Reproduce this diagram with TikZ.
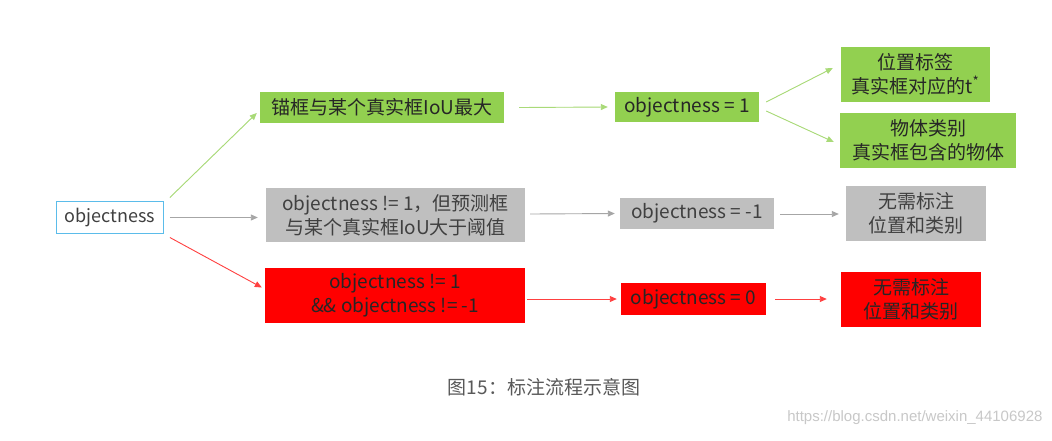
\documentclass[tikz,border=0pt]{standalone}
\usepackage{fontspec}
\setmainfont{Noto Sans CJK SC}
\newfontfamily\wmfont{Liberation Sans}
\usetikzlibrary{arrows.meta}
\definecolor{gbox}{HTML}{92D050}
\definecolor{gline}{HTML}{A9DA78}
\definecolor{graybox}{HTML}{BFBFBF}
\definecolor{grayline}{HTML}{A6A6A6}
\definecolor{rbox}{HTML}{FF0000}
\definecolor{rline}{HTML}{FF4040}
\definecolor{bluebd}{HTML}{5BBCEA}
\definecolor{captc}{HTML}{595959}
\definecolor{wmc}{HTML}{C8C8C8}
\tikzset{
  box/.style={inner sep=0pt, align=center, font=\fontsize{19}{24}\selectfont},
  greenbox/.style={box, fill=gbox, text=black!85},
  graybx/.style={box, fill=graybox, text=black!75},
  redbx/.style={box, fill=rbox, text=black!85},
  conn/.style={line width=0.9pt, -{Triangle[length=7pt,width=6pt]}},
  gconn/.style={conn, draw=gline, fill=gline},
  grconn/.style={conn, draw=grayline},
  rconn/.style={conn, draw=rline},
}
\begin{document}
\begin{tikzpicture}[x=1pt,y=-1pt]
\useasboundingbox (0,0) rectangle (1052,440);
\fill[white] (0,0) rectangle (1052,440);
% left node
\node[box, draw=bluebd, line width=0.8pt, fill=white, text=black!75, font=\fontsize{18}{24}\selectfont, minimum width=107pt, minimum height=32pt] (obj) at (110,217.5) {objectness};
% middle column
\node[greenbox, minimum width=244pt, minimum height=31pt] (b1) at (382,107.5) {锚框与某个真实框IoU最大};
\node[graybx, minimum width=259pt, minimum height=54pt] (b2) at (395.5,215) {objectness != 1，但预测框\\与某个真实框IoU大于阈值};
\node[redbx, minimum width=260pt, minimum height=55pt] (b3) at (395,295.5) {objectness != 1\\\&\& objectness != -1};
% objectness values
\node[greenbox, minimum width=144pt, minimum height=30pt] (c1) at (687,107) {objectness = 1};
\node[graybx, minimum width=154pt, minimum height=31pt] (c2) at (697,213.5) {objectness = -1};
\node[redbx, minimum width=145pt, minimum height=32pt] (c3) at (693.5,299) {objectness = 0};
% right column
\node[greenbox, minimum width=149pt, minimum height=55pt] (d1) at (915.5,74) {位置标签\\真实框对应的t\textsuperscript{*}};
\node[greenbox, minimum width=176pt, minimum height=55pt] (d2) at (928,140.5) {物体类别\\真实框包含的物体};
\node[graybx, minimum width=140pt, minimum height=55pt] (d3) at (916,213) {无需标注\\位置和类别};
\node[redbx, minimum width=140pt, minimum height=55pt] (d4) at (911,299.5) {无需标注\\位置和类别};
% connectors
\draw[gconn] ([shift={(6,-20)}]obj.east) -- ([shift={(-3,5.5)}]b1.west);
\draw[grconn] ([shift={(6,0)}]obj.east) -- ([shift={(-8,2.5)}]b2.west);
\draw[rconn] ([shift={(6,20)}]obj.east) -- ([shift={(-3,-8)}]b3.west);
\draw[gconn] ([shift={(15,0)}]b1.east) -- ([shift={(-7,0)}]c1.west);
\draw[gconn] ([shift={(7,-5)}]c1.east) -- ([shift={(-8,-6)}]d1.west);
\draw[gconn] ([shift={(7,4)}]c1.east) -- ([shift={(-6,1.5)}]d2.west);
\draw[grconn] ([shift={(5,-1)}]b2.east) -- ([shift={(-5,0)}]c2.west);
\draw[grconn] ([shift={(6,0.5)}]c2.east) -- ([shift={(-7,1)}]d3.west);
\draw[rconn] ([shift={(2,3.5)}]b3.east) -- ([shift={(-4,0)}]c3.west);
\draw[rconn] ([shift={(9,0)}]c3.east) -- ([shift={(-14,-0.5)}]d4.west);
% caption and watermark
\node[text=captc, font=\fontsize{19}{22}\selectfont] (cap) at (544,387) {图15：标注流程示意图};
\node[text=wmc, font=\wmfont\fontsize{15}{18}\selectfont, anchor=east] (wm) at (1046,418) {https://blog.csdn.net/weixin\_44106928};
\end{tikzpicture}
\end{document}
